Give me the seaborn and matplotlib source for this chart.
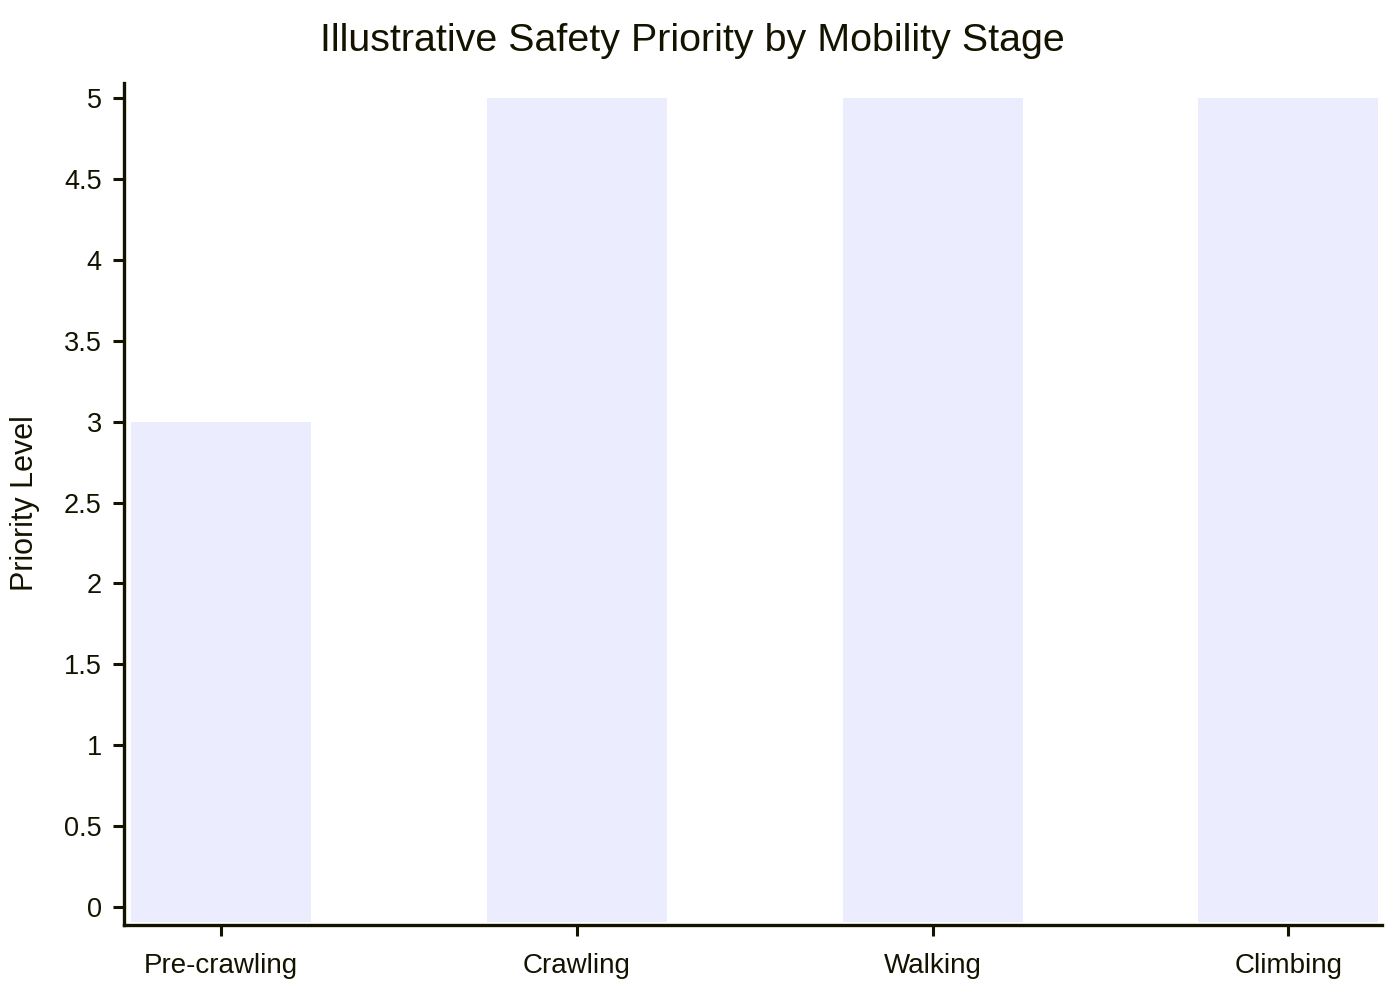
import matplotlib
matplotlib.use('Agg')
import matplotlib.pyplot as plt
import seaborn as sns
import pandas as pd

# chart data
stages = ['Pre-crawling', 'Crawling', 'Walking', 'Climbing']
priority = [3, 5, 5, 5]
y_ticks = [0, 0.5, 1, 1.5, 2, 2.5, 3, 3.5, 4, 4.5, 5]
y_tick_labels = ['0', '0.5', '1', '1.5', '2', '2.5', '3', '3.5', '4', '4.5', '5']

ink = '#131300'
bar_color = '#ECECFF'

sns.set_theme(style='white')
plt.rcParams['font.family'] = ['Liberation Sans', 'DejaVu Sans']

df = pd.DataFrame({'Stage': stages, 'Priority': priority})

fig = plt.figure(figsize=(14, 10), dpi=100)
ax = fig.add_axes([124 / 1400, 0.075, (1382 - 124) / 1400, 0.842])

sns.barplot(data=df, x='Stage', y='Priority', color=bar_color, saturation=1,
            width=0.506, linewidth=0, ax=ax)

ymin, ymax = -0.111, 5.093
# mermaid draws bars down to the axis line
for p in ax.patches:
    top = p.get_y() + p.get_height()
    p.set_y(ymin + 0.02)
    p.set_height(top - ymin - 0.02)

ax.set_ylim(ymin, ymax)
ax.set_xlim(-0.272, 3.263)
ax.set_yticks(y_ticks)
ax.set_yticklabels(y_tick_labels)

sns.despine(ax=ax)
for side in ['left', 'bottom']:
    ax.spines[side].set_color(ink)
    ax.spines[side].set_linewidth(2.4)

ax.tick_params(axis='both', colors=ink, labelcolor=ink,
               length=8, width=2.2, direction='out', left=True, bottom=True)
ax.tick_params(axis='y', pad=8, labelsize=19.5)
ax.tick_params(axis='x', pad=12, labelsize=20)

ax.set_xlabel('')
ax.set_ylabel('')
fig.text(25 / 1400, 1 - 503 / 1000, 'Priority Level', rotation=90,
         ha='center', va='center', fontsize=22, color=ink)
fig.text(692 / 1400, 1 - 41 / 1000, 'Illustrative Safety Priority by Mobility Stage',
         ha='center', va='center', fontsize=28.4, color=ink)

fig.savefig('out.png', dpi=100, facecolor='white')
